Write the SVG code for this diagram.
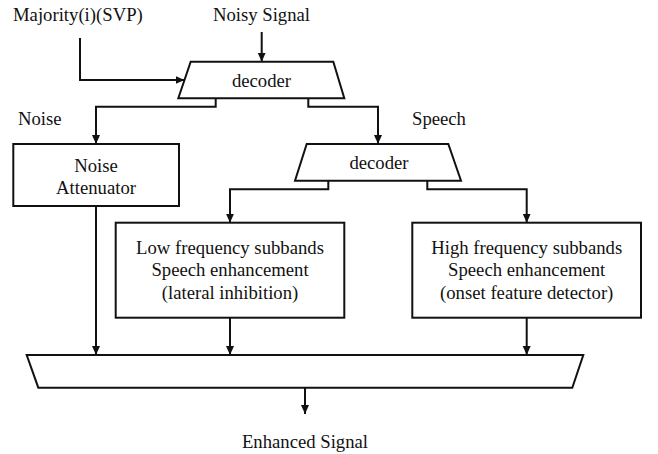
<svg xmlns="http://www.w3.org/2000/svg" width="658" height="454" viewBox="0 0 658 454">
<defs>
<style>
text{font-family:'Liberation Serif','Tinos','Times New Roman','DejaVu Serif',serif;font-size:18.7px;fill:#111}
.c{text-anchor:middle}
.shape{fill:#fff;stroke:#111;stroke-width:2}
.ln{fill:none;stroke:#111;stroke-width:2}
.arr{marker-end:url(#ah)}
</style>
<marker id="ah" markerUnits="userSpaceOnUse" markerWidth="10" markerHeight="10" refX="9" refY="4" orient="auto">
<path d="M0,0 L9,4 L0,8 z" fill="#111"/>
</marker>
</defs>
<rect width="658" height="454" fill="#fff"/>
<g id="labels" font-family="Liberation Serif, serif">
<text x="13" y="21">Majority(i)(SVP)</text>
<text x="261.5" y="21" class="c">Noisy Signal</text>
<text x="18" y="125">Noise</text>
<text x="412" y="125">Speech</text>
<text x="305" y="448" class="c">Enhanced Signal</text>
</g>
<g id="connectors">
<path class="ln arr" d="M80,38 V80 H184.5"/>
<path class="ln arr" d="M261.7,32 V61.7"/>
<path class="ln arr" d="M215.7,98.3 V106.7 H96 V144"/>
<path class="ln arr" d="M308.3,98.3 V106.7 H378 V144"/>
<path class="ln arr" d="M328.3,180.7 V189.3 H230 V222.7"/>
<path class="ln arr" d="M427.3,180.7 V189.3 H526.7 V222.7"/>
<path class="ln arr" d="M96,206 V355"/>
<path class="ln arr" d="M230,317.7 V355"/>
<path class="ln arr" d="M526.7,317.7 V355"/>
<path class="ln arr" d="M305,387.7 V414"/>
</g>
<g id="decoder1">
<path class="shape" d="M190.7,61.7 H333.3 L344.3,98.3 H178.3 Z"/>
<text x="261.5" y="86.5" class="c">decoder</text>
</g>
<g id="decoder2">
<path class="shape" d="M306.7,144 H448.3 L461,180.7 H295 Z"/>
<text x="379" y="168.5" class="c">decoder</text>
</g>
<g id="noise-attenuator">
<rect class="shape" x="13.3" y="144" width="165.7" height="62"/>
<text x="96" y="171.5" class="c">Noise</text>
<text x="96" y="194" class="c">Attenuator</text>
</g>
<g id="low-band">
<rect class="shape" x="115.7" y="222.7" width="228.6" height="95"/>
<text x="230" y="253.5" class="c">Low frequency subbands</text>
<text x="230" y="276" class="c">Speech enhancement</text>
<text x="230" y="298.5" class="c">(lateral inhibition)</text>
</g>
<g id="high-band">
<rect class="shape" x="412.3" y="222.7" width="228.7" height="95"/>
<text x="526.7" y="253.5" class="c">High frequency subbands</text>
<text x="526.7" y="276" class="c">Speech enhancement</text>
<text x="526.7" y="298.5" class="c">(onset feature detector)</text>
</g>
<g id="combiner">
<path class="shape" d="M26.7,355 H583.3 L572.3,387.7 H38.3 Z"/>
</g>
</svg>
